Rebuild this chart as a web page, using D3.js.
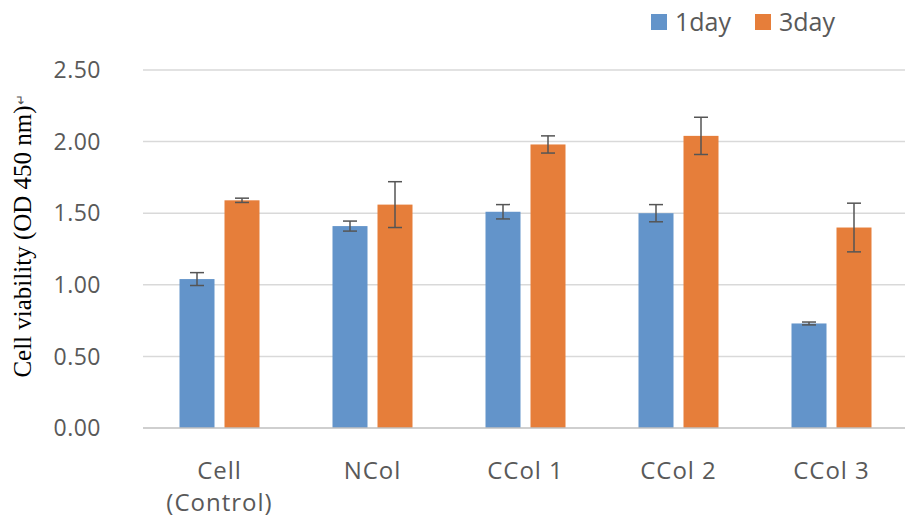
<!DOCTYPE html>
<html><head><meta charset="utf-8">
<script src="https://cdn.jsdelivr.net/npm/d3@7"></script>
<style>body{margin:0;background:#fff}svg{display:block}</style>
</head><body>
<script>
const categories = [["Cell","(Control)"],["NCol"],["CCol 1"],["CCol 2"],["CCol 3"]];
const seriesNames = ["1day","3day"];
const day1 = [1.04, 1.41, 1.51, 1.50, 0.73];
const day3 = [1.59, 1.56, 1.98, 2.04, 1.40];
const err1 = [0.045, 0.035, 0.05, 0.06, 0.01];
const err3 = [0.015, 0.16, 0.06, 0.13, 0.17];
const yTicks = [0, 0.5, 1.0, 1.5, 2.0, 2.5];
const colors = ["#6394CA", "#E67E3A"];

const W = 914, H = 529;
const svg = d3.select("body").append("svg").attr("width", W).attr("height", H);
const x = d3.scaleBand().domain(d3.range(categories.length)).range([143, 908]);
const y = d3.scaleLinear().domain([0, 2.5]).range([428, 70]);
const barW = 35, gap = 10;
const sans = "Open Sans, Noto Sans, sans-serif";

// gridlines
svg.append("g").selectAll("line").data(yTicks.filter(d => d > 0)).join("line")
  .attr("x1", 143).attr("x2", 905).attr("y1", d => y(d)).attr("y2", d => y(d))
  .attr("stroke", "#d9d9d9").attr("stroke-width", 1.5);

// y tick labels
svg.append("g").selectAll("text").data(yTicks).join("text")
  .attr("x", 101).attr("y", d => y(d)).attr("dy", "0.36em")
  .attr("text-anchor", "end").attr("font-family", sans)
  .attr("font-size", 23).attr("letter-spacing", 0.5).attr("fill", "#595959").text(d => d3.format(".2f")(d));

// y axis title
const yt = svg.append("text").attr("transform", `translate(31,${236}) rotate(-90)`)
  .attr("text-anchor", "middle").attr("font-family", "Liberation Serif, Times New Roman, serif")
  .attr("font-size", 25).attr("fill", "#000");
yt.append("tspan").text("Cell viability (OD 450 nm)");
yt.append("tspan").attr("font-size", 13).attr("fill", "#555").attr("dy", -6).text("↵");

const data = [day1, day3];
const errs = [err1, err3];
data.forEach((vals, s) => {
  const g = svg.append("g");
  const cx = i => x(i) + x.bandwidth() / 2 + (s === 0 ? -(gap / 2 + barW / 2) : (gap / 2 + barW / 2));
  g.selectAll("rect").data(vals).join("rect")
    .attr("x", (d, i) => cx(i) - barW / 2).attr("width", barW)
    .attr("y", d => y(d)).attr("height", d => y(0) - y(d))
    .attr("fill", colors[s]);
  const eg = svg.append("g").attr("stroke", "#555").attr("stroke-width", 1.5);
  vals.forEach((d, i) => {
    const e = errs[s][i];
    eg.append("line").attr("x1", cx(i)).attr("x2", cx(i)).attr("y1", y(d + e)).attr("y2", y(d - e));
    eg.append("line").attr("x1", cx(i) - 7).attr("x2", cx(i) + 7).attr("y1", y(d + e)).attr("y2", y(d + e));
    eg.append("line").attr("x1", cx(i) - 7).attr("x2", cx(i) + 7).attr("y1", y(d - e)).attr("y2", y(d - e));
  });
});

// x axis line
svg.append("line").attr("x1", 143).attr("x2", 905).attr("y1", y(0)).attr("y2", y(0))
  .attr("stroke", "#bfbfbf").attr("stroke-width", 1.5);

// category labels
const cl = svg.append("g").selectAll("text").data(categories).join("text")
  .attr("x", (d, i) => x(i) + x.bandwidth() / 2).attr("y", 479)
  .attr("text-anchor", "middle").attr("font-family", sans)
  .attr("font-size", 24).attr("letter-spacing", 1).attr("fill", "#595959");
cl.each(function(d) {
  const t = d3.select(this);
  d.forEach((line, k) => t.append("tspan").attr("x", t.attr("x")).attr("dy", k === 0 ? 0 : 32).text(line));
});

// legend
const leg = svg.append("g");
const lx = [651, 755];
seriesNames.forEach((n, s) => {
  leg.append("rect").attr("x", lx[s]).attr("y", 14).attr("width", 16).attr("height", 16).attr("fill", colors[s]);
  leg.append("text").attr("x", lx[s] + 24).attr("y", 31)
    .attr("font-family", sans).attr("font-size", 25)
    .attr("fill", "#595959").text(n);
});
</script>
</body></html>
